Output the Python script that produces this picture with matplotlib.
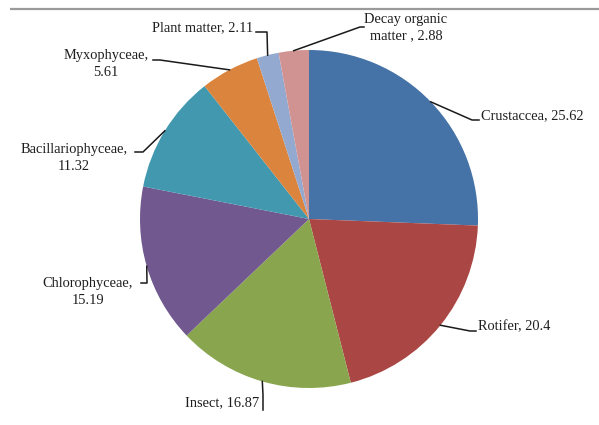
import numpy as np
import matplotlib
matplotlib.use("Agg")
import matplotlib.pyplot as plt

# Diet composition (%)
categories = ["Crustaccea", "Rotifer", "Insect", "Chlorophyceae",
              "Bacillariophyceae", "Myxophyceae", "Plant matter",
              "Decay organic\nmatter "]
values = [25.62, 20.4, 16.87, 15.19, 11.32, 5.61, 2.11, 2.88]
separators = [", ", ", ", ", ", ",\n", ",\n", ",\n", ", ", ", "]
colors = ["#4572A7", "#AA4643", "#89A54E", "#71588F",
          "#4198AF", "#DB843D", "#93A9CF", "#D19392"]

W, H = 599, 425
CX, CY, R = 309, 219, 169  # pie centre / radius in pixels (y measured from top)

# label layout: elbow point, end of leader, text anchor, horizontal alignment
layout = [
    ((472, 120), (479, 120), (481, 116), "left"),
    ((470, 331), (476, 331), (478, 327), "left"),
    ((263, 395), (263, 410), (259, 403), "right"),
    ((147, 283), (141, 283), (88, 292), "center"),
    ((143, 152), (135, 152), (74, 158), "center"),
    ((160, 60), (153, 60), (106, 64), "center"),
    ((267, 32), (256, 32), (253, 28), "right"),
    ((360, 27), (364, 27), (406, 28), "center"),
]

fig = plt.figure(figsize=(W / 100, H / 100), dpi=100)
ax = fig.add_axes([0, 0, 1, 1])

wedges, _ = ax.pie(values, colors=colors, startangle=90, counterclock=False,
                   center=(CX, H - CY), radius=R, frame=True,
                   wedgeprops=dict(linewidth=0))
ax.set_xlim(0, W)
ax.set_ylim(0, H)
ax.set_aspect("equal")
ax.axis("off")

# thin rule across the top
ax.plot([10, W], [H - 9, H - 9], color="#9a9a9a", lw=1.6, solid_capstyle="butt")

font = dict(family="Liberation Serif", size=10.4, color="#1e1e1e")
for w, cat, v, sep, (elbow, end, txt, ha) in zip(wedges, categories, values,
                                                  separators, layout):
    ang = np.deg2rad((w.theta1 + w.theta2) / 2)
    sx = CX + R * np.cos(ang)
    sy = (H - CY) + R * np.sin(ang)
    xs = [sx, elbow[0], end[0]]
    ys = [sy, H - elbow[1], H - end[1]]
    ax.plot(xs, ys, color="#1a1a1a", lw=1.1)
    ax.text(txt[0], H - txt[1], f"{cat}{sep}{v:g}", ha=ha, va="center",
            multialignment="center", linespacing=1.32, **font)

fig.savefig("out.png", dpi=100, facecolor="white")
